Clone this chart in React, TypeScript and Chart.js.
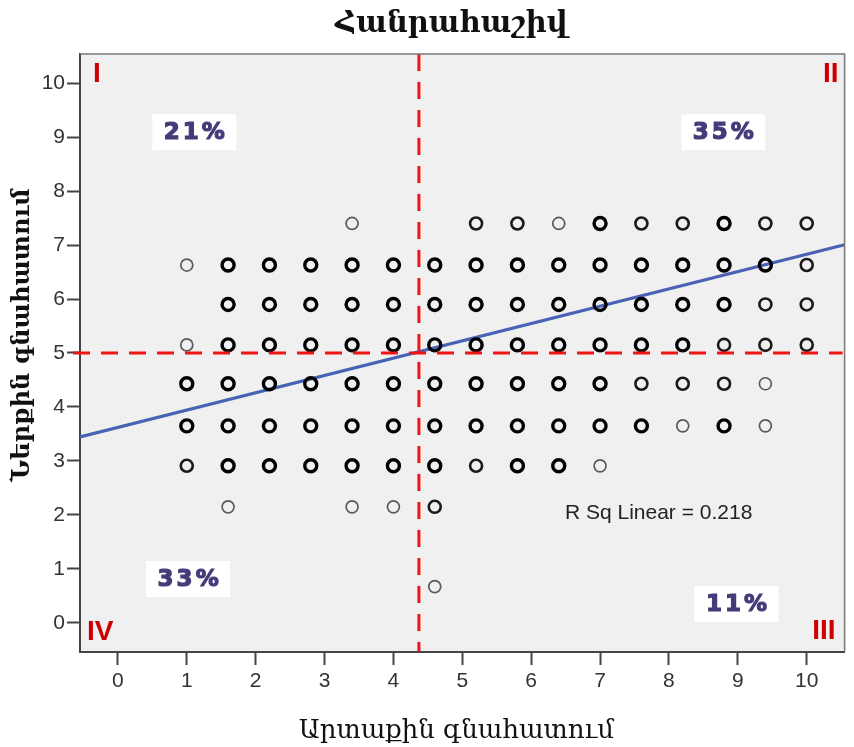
import React, { useEffect, useRef } from "react";
import { Chart, registerables } from "chart.js";

Chart.register(...registerables);

// ---------- text ----------
const chartTitle = "Հանրահաշիվ";
const xAxisTitle = "Արտաքին գնահատում";
const yAxisTitle = "Ներքին գնահատում";
const rSquaredLabel = "R Sq Linear = 0.218";

// ---------- axes ----------
const xTickValues = [0, 1, 2, 3, 4, 5, 6, 7, 8, 9, 10];
const yTickValues = [0, 1, 2, 3, 4, 5, 6, 7, 8, 9, 10];

// ---------- data grid (x levels, y levels, overlap density 0-3 per cell) ----------
const xValues = [1, 1.6, 2.2, 2.8, 3.4, 4.0, 4.6, 5.2, 5.8, 6.4, 7.0, 7.6, 8.2, 8.8, 9.4, 10];
const yValues = [7.4, 6.63, 5.9, 5.15, 4.43, 3.65, 2.91, 2.15, 0.67];
const densityRow740 = [0, 0, 0, 0, 1, 0, 0, 2, 2, 1, 3, 2, 2, 3, 2, 2];
const densityRow663 = [1, 3, 3, 3, 3, 3, 3, 3, 3, 3, 3, 3, 3, 3, 3, 2];
const densityRow590 = [0, 3, 3, 3, 3, 3, 3, 3, 3, 3, 3, 3, 3, 3, 2, 2];
const densityRow515 = [1, 3, 3, 3, 3, 3, 3, 3, 3, 3, 3, 3, 3, 2, 2, 2];
const densityRow443 = [3, 3, 3, 3, 3, 3, 3, 3, 3, 3, 3, 2, 2, 2, 1, 0];
const densityRow365 = [3, 3, 3, 3, 3, 3, 3, 3, 3, 3, 3, 3, 1, 3, 1, 0];
const densityRow291 = [2, 3, 3, 3, 3, 3, 3, 2, 3, 3, 1, 0, 0, 0, 0, 0];
const densityRow215 = [0, 1, 0, 0, 1, 1, 2, 0, 0, 0, 0, 0, 0, 0, 0, 0];
const densityRow067 = [0, 0, 0, 0, 0, 0, 1, 0, 0, 0, 0, 0, 0, 0, 0, 0];
const densityRows = [
  densityRow740, densityRow663, densityRow590, densityRow515, densityRow443,
  densityRow365, densityRow291, densityRow215, densityRow067,
];

// ---------- fit & reference lines ----------
const fitIntercept = 3.62;
const fitSlope = 0.321;
const xReference = 4.37;
const yReference = 5.0;

// ---------- quadrant annotations ----------
const quadrantShares = ["21%", "35%", "33%", "11%"];
const quadrantShareX = [1.11, 8.79, 1.02, 8.98];
const quadrantShareY = [9.09, 9.09, 0.81, 0.35];
const quadrantNames = ["I", "II", "III", "IV"];

const X_MIN = -0.55, X_MAX = 10.55, Y_MIN = -0.54, Y_MAX = 10.54;

function pointsForDensity(level: number) {
  const pts: { x: number; y: number }[] = [];
  densityRows.forEach((row, i) => {
    row.forEach((d, j) => {
      if (d === level) pts.push({ x: xValues[j], y: yValues[i] });
    });
  });
  return pts;
}

const SANS = "'Liberation Sans', Arial, sans-serif";
const SERIF = "'DejaVu Serif', 'DejaVu Sans', serif";

const decorPlugin = {
  id: "decor",
  beforeDraw(chart: any) {
    const { ctx, chartArea: a } = chart;
    ctx.save();
    ctx.fillStyle = "#ffffff";
    ctx.fillRect(0, 0, chart.width, chart.height);
    ctx.fillStyle = "#F0F0F0";
    ctx.fillRect(a.left, a.top, a.right - a.left, a.bottom - a.top);
    ctx.restore();
  },
  afterDatasetsDraw(chart: any) {
    const { ctx, chartArea: a, scales } = chart;
    const xs = scales.x, ys = scales.y;
    ctx.save();
    ctx.strokeStyle = "#F21414";
    ctx.lineWidth = 3;
    ctx.setLineDash([17, 11]);
    const px = xs.getPixelForValue(xReference);
    const py = ys.getPixelForValue(yReference);
    ctx.beginPath();
    ctx.moveTo(px, a.top);
    ctx.lineTo(px, a.bottom);
    ctx.stroke();
    ctx.beginPath();
    ctx.moveTo(a.left - 7, py);
    ctx.lineTo(a.right - 2, py);
    ctx.stroke();
    ctx.restore();
  },
  afterDraw(chart: any) {
    const { ctx, chartArea: a, scales } = chart;
    const xs = scales.x, ys = scales.y;
    ctx.save();
    // frame top/right
    ctx.strokeStyle = "#777";
    ctx.lineWidth = 1.5;
    ctx.beginPath();
    ctx.moveTo(a.left, a.top);
    ctx.lineTo(a.right, a.top);
    ctx.lineTo(a.right, a.bottom);
    ctx.stroke();

    // title
    ctx.fillStyle = "#111";
    ctx.textAlign = "center";
    ctx.textBaseline = "middle";
    ctx.font = `bold 29px ${SERIF}`;
    ctx.fillText(chartTitle, (a.left + a.right) / 2 - 11, 24);

    // x axis title
    ctx.font = `26px ${SERIF}`;
    ctx.fillText(xAxisTitle, (a.left + a.right) / 2 - 6, 731);

    // y axis title
    ctx.save();
    ctx.translate(23, 335);
    ctx.rotate(-Math.PI / 2);
    ctx.font = `bold 24px ${SERIF}`;
    ctx.fillText(yAxisTitle, 0, 0);
    ctx.restore();

    // R squared
    ctx.font = `21px ${SANS}`;
    ctx.fillStyle = "#222";
    ctx.textAlign = "left";
    ctx.fillText(rSquaredLabel, xs.getPixelForValue(6.49), ys.getPixelForValue(2.04));

    // quadrant share boxes
    quadrantShares.forEach((t, i) => {
      const cx = xs.getPixelForValue(quadrantShareX[i]);
      const cy = ys.getPixelForValue(quadrantShareY[i]);
      ctx.fillStyle = "#ffffff";
      ctx.fillRect(cx - 42, cy - 18, 84, 36);
      ctx.fillStyle = "#463B7A";
      ctx.strokeStyle = "#463B7A";
      ctx.lineWidth = 1.2;
      ctx.font = `bold 23px 'DejaVu Sans', sans-serif`;
      ctx.textAlign = "center";
      (ctx as any).letterSpacing = "3px";
      ctx.fillText(t, cx + 1.5, cy + 1);
      ctx.strokeText(t, cx + 1.5, cy + 1);
      (ctx as any).letterSpacing = "0px";
    });

    // quadrant numerals
    ctx.fillStyle = "#CC0000";
    ctx.font = `bold 28px ${SANS}`;
    ctx.textAlign = "left";
    ctx.fillText(quadrantNames[0], a.left + 13, a.top + 20);
    ctx.fillText(quadrantNames[3], a.left + 7, a.bottom - 20);
    ctx.textAlign = "right";
    ctx.fillText(quadrantNames[1], a.right - 6, a.top + 20);
    ctx.fillText(quadrantNames[2], a.right - 9, a.bottom - 21);
    ctx.restore();
  },
};

export default function App() {
  const canvasRef = useRef<HTMLCanvasElement | null>(null);

  useEffect(() => {
    if (!canvasRef.current) return;
    const fitPoints = [
      { x: X_MIN, y: fitIntercept + fitSlope * X_MIN },
      { x: X_MAX, y: fitIntercept + fitSlope * X_MAX },
    ];
    const tickFont = { family: SANS, size: 21 };
    const chart = new Chart(canvasRef.current, {
      type: "scatter",
      data: {
        datasets: [
          {
            label: "light",
            data: pointsForDensity(1),
            pointRadius: 6,
            pointBorderWidth: 1.7,
            borderColor: "#5a5a5a",
            backgroundColor: "rgba(0,0,0,0)",
            pointBackgroundColor: "rgba(0,0,0,0)",
            pointBorderColor: "#5a5a5a",
          },
          {
            label: "medium",
            data: pointsForDensity(2),
            pointRadius: 6,
            pointBorderWidth: 2.6,
            borderColor: "#1a1a1a",
            backgroundColor: "rgba(0,0,0,0)",
            pointBackgroundColor: "rgba(0,0,0,0)",
            pointBorderColor: "#1a1a1a",
          },
          {
            label: "heavy",
            data: pointsForDensity(3),
            pointRadius: 6,
            pointBorderWidth: 3.4,
            borderColor: "#000",
            backgroundColor: "rgba(0,0,0,0)",
            pointBackgroundColor: "rgba(0,0,0,0)",
            pointBorderColor: "#000",
          },
          {
            type: "line",
            label: "fit",
            data: fitPoints,
            borderColor: "#4862B5",
            borderWidth: 3.2,
            pointRadius: 0,
            showLine: true,
            fill: false,
          } as any,
        ],
      },
      options: {
        responsive: false,
        devicePixelRatio: 1,
        animation: false,
        events: [],
        layout: { padding: { top: 54, right: 6, left: 0, bottom: 0 } },
        plugins: {
          legend: { display: false },
          tooltip: { enabled: false },
          title: { display: false },
        },
        scales: {
          x: {
            type: "linear",
            min: X_MIN,
            max: X_MAX,
            afterBuildTicks: (s: any) => {
              s.ticks = xTickValues.map((v) => ({ value: v }));
            },
            afterFit: (s: any) => {
              s.height = 95;
            },
            ticks: { font: tickFont, color: "#333", padding: 4, includeBounds: false },
            grid: {
              drawOnChartArea: false,
              drawTicks: true,
              tickLength: 13,
              tickColor: "#444",
              tickWidth: 2,
            },
            border: { display: true, color: "#444", width: 2 },
          },
          y: {
            type: "linear",
            min: Y_MIN,
            max: Y_MAX,
            afterBuildTicks: (s: any) => {
              s.ticks = yTickValues.map((v) => ({ value: v }));
            },
            afterFit: (s: any) => {
              s.width = 80;
            },
            ticks: { font: tickFont, color: "#333", padding: 2, includeBounds: false },
            grid: {
              drawOnChartArea: false,
              drawTicks: true,
              tickLength: 13,
              tickColor: "#444",
              tickWidth: 2,
            },
            border: { display: true, color: "#444", width: 2 },
          },
        },
      } as any,
      plugins: [decorPlugin],
    });
    return () => chart.destroy();
  }, []);

  return (
    <div style={{ position: "fixed", left: 0, top: 0, width: 854, height: 747, background: "#fff" }}>
      <canvas ref={canvasRef} width={854} height={747} style={{ display: "block" }} />
    </div>
  );
}
